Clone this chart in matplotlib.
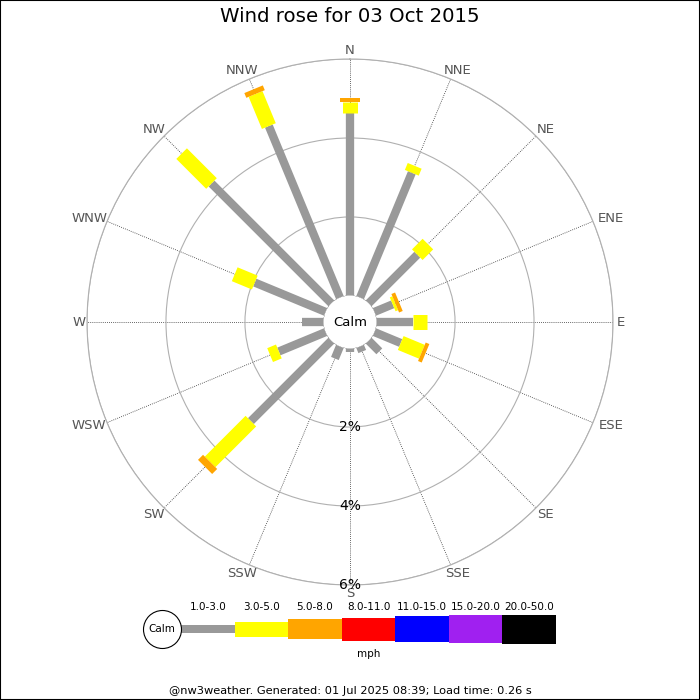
import numpy as np
import matplotlib
matplotlib.use('Agg')
from matplotlib import pyplot as plt

# wind rose data, % of time per direction and speed bin
directions = ['N', 'NNE', 'NE', 'ENE', 'E', 'ESE', 'SE', 'SSE',
              'S', 'SSW', 'SW', 'WSW', 'W', 'WNW', 'NW', 'NNW']
pct_1_3 = [4.63, 3.43, 1.75, 0.51, 0.93, 0.73, 0.39, 0.15,
           0.10, 0.34, 2.89, 1.29, 0.56, 1.95, 4.30, 4.71]
pct_3_5 = [0.28, 0.19, 0.38, 0.07, 0.35, 0.58, 0.0, 0.0,
           0.0, 0.0, 1.46, 0.24, 0.0, 0.55, 1.07, 0.88]
pct_5_8 = [0.10, 0.0, 0.0, 0.10, 0.0, 0.10, 0.0, 0.0,
           0.0, 0.0, 0.18, 0.0, 0.0, 0.0, 0.0, 0.13]

speed_bins = ['1.0-3.0', '3.0-5.0', '5.0-8.0', '8.0-11.0', '11.0-15.0', '15.0-20.0', '20.0-50.0']
bin_colors = ['#999999', '#ffff00', '#ffa500', '#ff0000', '#0000ff', '#a020f0', '#000000']
bin_widths = [8.3, 15, 20, 23, 26, 28, 29]   # pixels

rings = [2, 4, 6]
title = 'Wind rose for 03 Oct 2015'
footer = '@nw3weather. Generated: 01 Jul 2025 08:39; Load time: 0.26 s'

px = 0.72  # points per pixel at dpi 100

fig = plt.figure(figsize=(7, 7), dpi=100)
fig.patch.set_facecolor('white')

ax = fig.add_axes([87 / 700, 115 / 700, 526 / 700, 526 / 700], projection='polar')
ax.set_theta_zero_location('N')
ax.set_theta_direction(-1)
ax.set_ylim(0, 6)
ax.set_rorigin(-0.66)
ax.set_axisbelow(True)

angles = np.deg2rad(np.arange(16) * 22.5)
ax.set_xticks(angles)
ax.set_xticklabels([])
ax.set_yticks(rings)
ax.set_yticklabels([])
ax.xaxis.grid(True, color='#333333', linestyle=(0, (1, 1.5)), linewidth=0.6)
ax.yaxis.grid(True, color='#b0b0b0', linestyle='-', linewidth=0.8)
ax.spines['polar'].set_color('#b0b0b0')
ax.spines['polar'].set_linewidth(0.8)
ax.spines['inner'].set_visible(False)

series = [pct_1_3, pct_3_5, pct_5_8]
for i, th in enumerate(angles):
    start = 0
    for k, s in enumerate(series):
        v = s[i]
        if v <= 0:
            continue
        ax.plot([th, th], [start, start + v], color=bin_colors[k],
                lw=bin_widths[k] * px, solid_capstyle='butt', zorder=3)
        start += v

# white calm disc over the centre
ax.add_patch(plt.Circle((0.5, 0.5), 26.5 / 526, transform=ax.transAxes,
                        facecolor='white', edgecolor='none', zorder=5, clip_on=False))
ax.text(0.5, 0.5, 'Calm', transform=ax.transAxes, ha='center', va='center',
        fontsize=9.5, zorder=6)

for lab, th in zip(directions, angles):
    hw = len(lab) * 5.5
    ax.annotate(lab, xy=(th, 6.07), xytext=(hw * np.sin(th) * px, 6 * np.cos(th) * px),
                textcoords='offset points', ha='center', va='center', fontsize=9.5,
                color='#555555', annotation_clip=False)

for r in rings:
    ax.text(np.pi, r, '%d%%' % r, ha='center', va='center', fontsize=10,
            color='black', zorder=4)

fig.text(0.5, 1 - 17 / 700, title, ha='center', va='center', fontsize=14.2)
fig.text(0.5, 1 - 691 / 700, footer, ha='center', va='center', fontsize=8.2)

# legend strip
lax = fig.add_axes([181 / 700, (700 - 659) / 700, 375 / 700, 60 / 700])
lax.set_xlim(0, len(speed_bins))
lax.set_ylim(-30, 30)
lax.axis('off')
for i, (lab, c, h) in enumerate(zip(speed_bins, bin_colors, bin_widths)):
    lax.bar(i, h, width=1.0, bottom=-h / 2, align='edge', color=c, linewidth=0)
    lax.text(i + 0.5, 22, lab, ha='center', va='center', fontsize=7.5)
lax.text(len(speed_bins) / 2, -25, 'mph', ha='center', va='center', fontsize=7.5)
lax.plot([-19 / 53.6], [0], marker='o', markersize=38 * px, markerfacecolor='white',
         markeredgecolor='black', markeredgewidth=0.8, clip_on=False)
lax.text(-19 / 53.6, 0, 'Calm', ha='center', va='center', fontsize=7.5)

fig.add_artist(plt.Rectangle((0, 0), 1, 1, transform=fig.transFigure, fill=False,
                             edgecolor='black', linewidth=1.5))

fig.savefig('out.png', dpi=100)
